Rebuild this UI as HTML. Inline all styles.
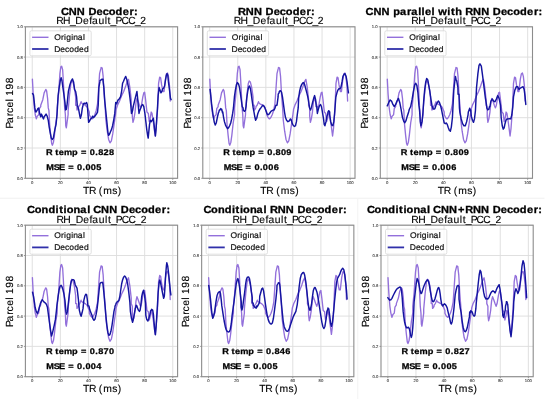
<!DOCTYPE html>
<html><head><meta charset="utf-8"><style>
html,body{margin:0;padding:0;background:#fff;width:550px;height:402px;overflow:hidden}
svg{display:block;will-change:transform;text-rendering:geometricPrecision;font-family:"Liberation Sans",sans-serif}
</style></head><body>
<svg width="550" height="402" viewBox="0 0 550 402">
<rect width="550" height="402" fill="#fff"/>
<line x1="0" y1="198.2" x2="544.5" y2="198.2" stroke="#f0f0f0" stroke-width="1"/>
<line x1="357.8" y1="198.5" x2="357.8" y2="399" stroke="#f3f3f3" stroke-width="1"/>
<g><line x1="32.25" y1="26.8" x2="32.25" y2="178.3" stroke="#dcdcdc" stroke-width="0.9"/><line x1="25.4" y1="178.3" x2="177.6" y2="178.3" stroke="#dcdcdc" stroke-width="0.9"/><line x1="60.35" y1="26.8" x2="60.35" y2="178.3" stroke="#dcdcdc" stroke-width="0.9"/><line x1="25.4" y1="148" x2="177.6" y2="148" stroke="#dcdcdc" stroke-width="0.9"/><line x1="88.45" y1="26.8" x2="88.45" y2="178.3" stroke="#dcdcdc" stroke-width="0.9"/><line x1="25.4" y1="117.7" x2="177.6" y2="117.7" stroke="#dcdcdc" stroke-width="0.9"/><line x1="116.55" y1="26.8" x2="116.55" y2="178.3" stroke="#dcdcdc" stroke-width="0.9"/><line x1="25.4" y1="87.4" x2="177.6" y2="87.4" stroke="#dcdcdc" stroke-width="0.9"/><line x1="144.65" y1="26.8" x2="144.65" y2="178.3" stroke="#dcdcdc" stroke-width="0.9"/><line x1="25.4" y1="57.1" x2="177.6" y2="57.1" stroke="#dcdcdc" stroke-width="0.9"/><line x1="172.75" y1="26.8" x2="172.75" y2="178.3" stroke="#dcdcdc" stroke-width="0.9"/><line x1="25.4" y1="26.8" x2="177.6" y2="26.8" stroke="#dcdcdc" stroke-width="0.9"/><polyline points="32.39,79.16 33.21,94.22 34.3,107.9 34.3,107.94 35.26,114.75 35.26,114.79 36.35,118.9 37.31,116.15 38.68,114.75 39.36,108.64 40.74,106.53 40.74,105.22 42.79,99.69 44.15,92.85 45.79,89.43 46.62,90.79 47.58,98.32 48.27,107.9 48.94,110.69 49.63,124.37 50.73,135.32 51.68,143.53 52.37,145.18 53.47,142.17 54.42,135.32 55.78,123 57.16,114.75 57.16,107.94 58.52,94.22 59.9,73.69 60.86,66.84 61.67,66.16 62.63,69.58 63.31,80.52 64,94.22 64.68,107.9 65.37,114.75 65.77,125.74 66.32,127.79 67.15,121.64 68.11,114.75 68.11,110.69 69.47,95.58 70.85,83.61 71.8,80.89 72.9,81.95 74.26,87.37 75.64,96.96 75.64,105.22 76.73,105.17 77,110 77.69,109.28 78.38,107.94 78.64,106.53 79.74,105.22 81.1,101.75 81.1,102.47 82.48,103.79 85.22,105.17 87.27,107.22 89.32,112 89.32,114.79 90.68,117.53 92.06,118.9 93.42,117.53 94.79,114.79 96.16,110.69 97.53,103.84 98.21,94.22 99.58,73.69 100.95,68.2 101.09,67.52 102.05,67.93 102.19,68.2 103.15,76.42 104.12,94.22 105.21,107.9 105.89,120.26 107.26,131.21 108.63,139.43 110,142.85 111.37,140.79 112.73,133.96 114.11,124.37 115.47,114.79 116.16,109.28 117.52,105.17 119.57,101.07 121.64,95.58 123.69,91.48 125.74,86.01 127.1,81.9 128.48,79.43 129.84,87.37 131.2,99.69 131.2,105.22 132.3,107.9 132.3,116.15 132.99,122.32 133.94,118.9 135.04,112.05 136,102.43 136.96,98.32 138.05,101.07 139.42,105.17 140.52,107.9 141.47,105.17 142.84,96.96 143.81,92.85 144.62,92.16 145.58,99.69 146.95,112 148.32,113.43 149.27,121.64 150.37,117.53 151.2,112.05 152.01,113.43 153.11,120.26 154.2,128.47 155.16,136 156.11,128.47 156.94,117.53 157.49,110.69 158.59,83.26 159.68,77.11 160.64,77.79 161.59,84.63 162.96,91.48 164.05,91.48 165.43,79.16 166.53,73.69 167.48,73.01 168.44,76.42 169.53,86.01 170.22,101.07" fill="none" stroke="#9370db" stroke-width="1.35" stroke-linejoin="round" stroke-linecap="round"/><polyline points="32.52,93.54 33.47,94.9 34.16,101.07 34.85,107.9 35.12,109.32 35.52,111.32 35.93,112.05 36.9,110.69 37.86,108.64 38.67,107.94 39.36,112.05 40.05,114.79 40.72,116.85 41.41,114.11 42.1,115.47 42.79,117.53 43.46,118.9 44.15,116.85 45.11,115.47 46.06,114.11 47.16,116.15 48.25,120.26 49.21,127.11 50.18,132.58 51.26,138.06 52.23,139.43 53.33,138.06 54.28,132.58 55.1,128.47 56.05,124.37 56.74,117.53 57.43,107.94 58.12,95.58 59.2,87.37 60.29,80.52 61.12,77.79 61.94,80.52 62.89,87.37 63.86,94.22 64.96,102.43 65.63,110 65.91,109.28 66.32,109.32 67.01,105.22 67.42,101.07 68.37,91.48 69.75,85.32 71.11,81.22 72.48,78.89 73.57,81.9 74.53,89.43 75.62,91.48 76.59,96.96 77.27,105.17 78.64,109.32 79.74,115.47 80.41,118.22 81.38,114.79 82.34,107.94 83.43,103.84 84.39,103.16 85.49,103.84 86.58,102.47 87.26,104.53 87.94,113.43 88.63,122.32 89.59,120.96 90.68,118.9 91.64,118.22 92.59,116.15 93.42,117.53 94.38,116.85 95.33,115.47 96.43,114.11 97.53,112.05 98.21,105.22 98.89,87.37 99.86,81.9 100,80.52 101.09,79.84 101.22,79.84 102.05,79.16 103.01,79.16 103.01,80.52 103.83,87.37 104.79,101.07 106.15,114.79 107.12,124.37 107.94,132.58 108.63,135.32 109.58,133.96 110.68,131.21 111.63,129.17 112.59,125.74 113.68,120.26 114.78,113.43 115.74,102.43 116.69,103.79 117.79,100.37 119.16,99 120.53,96.96 121.62,91.48 122.58,83.26 123.55,81.22 124.63,78.48 125.72,76.42 126.69,79.16 127.65,83.26 128.75,88.75 129.84,96.96 130.8,105.17 131.47,113.43 132.57,110.69 133.54,105.22 135.85,95.58 136.95,91.48 137.64,98.32 138.33,106.53 139,113.43 139.69,110.69 140.79,107.94 141.74,105.22 142.7,104.53 143.79,106.58 144.89,113.43 145.84,121.64 146.8,129.85 147.63,135.32 148.18,138.06 148.99,129.85 149.54,124.37 150.37,120.26 151.32,121.64 152.28,120.26 153.38,118.22 154.06,124.37 154.74,131.21 155.43,136 156.11,128.47 156.8,117.53 157.48,107.94 158.17,95.58 159.12,87.37 159.95,90.11 160.91,92.85 161.86,91.48 162.68,88.75 163.65,88.05 164.6,86.01 165.42,80.52 166.37,75.05 167.06,73.69 167.75,75.05 168.44,81.9 169.53,90.11 170.49,98.32 171.16,99.69" fill="none" stroke="#1414a0" stroke-width="1.45" stroke-linejoin="round" stroke-linecap="round"/><rect x="25.4" y="26.8" width="152.2" height="151.5" fill="none" stroke="#8c8c8c" stroke-width="1.1"/><line x1="32.25" y1="178.3" x2="32.25" y2="179.8" stroke="#8c8c8c" stroke-width="0.9"/><text x="32.25" y="183.9" font-size="4.2" text-anchor="middle" fill="#444" stroke="#444" stroke-width="0.12">0</text><line x1="23.9" y1="178.3" x2="25.4" y2="178.3" stroke="#8c8c8c" stroke-width="0.9"/><text x="22.8" y="179.95" font-size="4.2" text-anchor="end" fill="#444" stroke="#444" stroke-width="0.12">0.0</text><line x1="60.35" y1="178.3" x2="60.35" y2="179.8" stroke="#8c8c8c" stroke-width="0.9"/><text x="60.35" y="183.9" font-size="4.2" text-anchor="middle" fill="#444" stroke="#444" stroke-width="0.12">20</text><line x1="23.9" y1="148" x2="25.4" y2="148" stroke="#8c8c8c" stroke-width="0.9"/><text x="22.8" y="149.65" font-size="4.2" text-anchor="end" fill="#444" stroke="#444" stroke-width="0.12">0.2</text><line x1="88.45" y1="178.3" x2="88.45" y2="179.8" stroke="#8c8c8c" stroke-width="0.9"/><text x="88.45" y="183.9" font-size="4.2" text-anchor="middle" fill="#444" stroke="#444" stroke-width="0.12">40</text><line x1="23.9" y1="117.7" x2="25.4" y2="117.7" stroke="#8c8c8c" stroke-width="0.9"/><text x="22.8" y="119.35" font-size="4.2" text-anchor="end" fill="#444" stroke="#444" stroke-width="0.12">0.4</text><line x1="116.55" y1="178.3" x2="116.55" y2="179.8" stroke="#8c8c8c" stroke-width="0.9"/><text x="116.55" y="183.9" font-size="4.2" text-anchor="middle" fill="#444" stroke="#444" stroke-width="0.12">60</text><line x1="23.9" y1="87.4" x2="25.4" y2="87.4" stroke="#8c8c8c" stroke-width="0.9"/><text x="22.8" y="89.05" font-size="4.2" text-anchor="end" fill="#444" stroke="#444" stroke-width="0.12">0.6</text><line x1="144.65" y1="178.3" x2="144.65" y2="179.8" stroke="#8c8c8c" stroke-width="0.9"/><text x="144.65" y="183.9" font-size="4.2" text-anchor="middle" fill="#444" stroke="#444" stroke-width="0.12">80</text><line x1="23.9" y1="57.1" x2="25.4" y2="57.1" stroke="#8c8c8c" stroke-width="0.9"/><text x="22.8" y="58.75" font-size="4.2" text-anchor="end" fill="#444" stroke="#444" stroke-width="0.12">0.8</text><line x1="172.75" y1="178.3" x2="172.75" y2="179.8" stroke="#8c8c8c" stroke-width="0.9"/><text x="172.75" y="183.9" font-size="4.2" text-anchor="middle" fill="#444" stroke="#444" stroke-width="0.12">100</text><line x1="23.9" y1="26.8" x2="25.4" y2="26.8" stroke="#8c8c8c" stroke-width="0.9"/><text x="22.8" y="28.45" font-size="4.2" text-anchor="end" fill="#444" stroke="#444" stroke-width="0.12">1.0</text><rect x="29.9" y="30.8" width="61.3" height="25.0" rx="1.5" fill="#fff" fill-opacity="0.8" stroke="#d8d8d8" stroke-width="0.8"/><line x1="32.1" y1="37.3" x2="48.5" y2="37.3" stroke="#9370db" stroke-width="1.4"/><line x1="32.1" y1="49" x2="48.5" y2="49" stroke="#3030aa" stroke-width="1.8"/><text transform="scale(1.03,1)" x="52.75 59.25 62.19 64.22 69.1 71.18 75.6 80.64" y="39.75" font-size="8.25" fill="#111" stroke="#111" stroke-width="0.2">Original</text><text transform="scale(1.03,1)" x="52.6 58.54 63.07 67.33 72.01 76.8 81.47" y="51.7" font-size="8.25" fill="#111" stroke="#111" stroke-width="0.2">Decoded</text><text transform="scale(1.12,1)" x="41.02 46.67 49.29 52.39 57.06 64.35 69.39 72.26 77.65 80.15 85.04 87.63 92.48 97.32" y="155.35" font-size="8.2" font-weight="bold" fill="#000" stroke="#000" stroke-width="0.25">R temp = 0.828</text><text transform="scale(1.12,1)" x="41.28 47.98 52.78 58.01 60.88 66.27 68.77 73.66 76.26 81.11 85.96" y="170.3" font-size="8.2" font-weight="bold" fill="#000" stroke="#000" stroke-width="0.25">MSE = 0.005</text><text transform="scale(1.07,1)" x="56.91 64.21 71.85 79.54 82.67 90.31 95.99 101.71 108.06 114.7 121.06 125.31" y="14.5" font-size="10.3" font-weight="bold" fill="#000" stroke="#000" stroke-width="0.3">CNN Decoder:</text><text x="56.14 63.05 70.04 75.37 83 89.26 92.04 98.47 104.67 107.62 110.58 115.53 121.38 128.19 134.98 140.37" y="24.35" font-size="10.35" fill="#000" stroke="#000" stroke-width="0.12">RH_Default_PCC_2</text><text x="82.93 88.88 95.96 98.87 103.23 112.29 117.8" y="193.5" font-size="10.35" fill="#000" stroke="#000" stroke-width="0.12">TR (ms)</text><text transform="translate(13.2,102.55) rotate(-90)" x="-26.01 -20.47 -13.77 -10.46 -4.93 1.13 3.75 6.91 13.15 19.39" y="0" font-size="10.35" fill="#000" stroke="#000" stroke-width="0.12">Parcel 198</text></g>
<g><line x1="209.65" y1="26.8" x2="209.65" y2="178.3" stroke="#dcdcdc" stroke-width="0.9"/><line x1="202.8" y1="178.3" x2="355" y2="178.3" stroke="#dcdcdc" stroke-width="0.9"/><line x1="237.75" y1="26.8" x2="237.75" y2="178.3" stroke="#dcdcdc" stroke-width="0.9"/><line x1="202.8" y1="148" x2="355" y2="148" stroke="#dcdcdc" stroke-width="0.9"/><line x1="265.85" y1="26.8" x2="265.85" y2="178.3" stroke="#dcdcdc" stroke-width="0.9"/><line x1="202.8" y1="117.7" x2="355" y2="117.7" stroke="#dcdcdc" stroke-width="0.9"/><line x1="293.95" y1="26.8" x2="293.95" y2="178.3" stroke="#dcdcdc" stroke-width="0.9"/><line x1="202.8" y1="87.4" x2="355" y2="87.4" stroke="#dcdcdc" stroke-width="0.9"/><line x1="322.05" y1="26.8" x2="322.05" y2="178.3" stroke="#dcdcdc" stroke-width="0.9"/><line x1="202.8" y1="57.1" x2="355" y2="57.1" stroke="#dcdcdc" stroke-width="0.9"/><line x1="350.15" y1="26.8" x2="350.15" y2="178.3" stroke="#dcdcdc" stroke-width="0.9"/><line x1="202.8" y1="26.8" x2="355" y2="26.8" stroke="#dcdcdc" stroke-width="0.9"/><polyline points="209.79,79.16 210.61,94.22 211.7,107.9 211.7,107.94 212.66,114.75 212.66,114.79 213.75,118.9 214.71,116.15 216.08,114.75 216.76,108.64 218.14,106.53 218.14,105.22 220.19,99.69 221.55,92.85 223.19,89.43 224.02,90.79 224.98,98.32 225.67,107.9 226.34,110.69 227.03,124.37 228.13,135.32 229.08,143.53 229.77,145.18 230.87,142.17 231.82,135.32 233.18,123 234.56,114.75 234.56,107.94 235.92,94.22 237.3,73.69 238.26,66.84 239.07,66.16 240.03,69.58 240.71,80.52 241.4,94.22 242.08,107.9 242.77,114.75 243.17,125.74 243.72,127.79 244.55,121.64 245.51,114.75 245.51,110.69 246.87,95.58 248.25,83.61 249.2,80.89 250.3,81.95 251.66,87.37 253.04,96.96 253.04,105.22 254.13,105.17 254.4,110 255.09,109.28 255.78,107.94 256.04,106.53 257.14,105.22 258.5,101.75 258.5,102.47 259.88,103.79 262.62,105.17 264.67,107.22 266.72,112 266.72,114.79 268.08,117.53 269.46,118.9 270.82,117.53 272.19,114.79 273.56,110.69 274.93,103.84 275.61,94.22 276.98,73.69 278.35,68.2 278.5,67.52 279.45,67.93 279.59,68.2 280.55,76.42 281.52,94.22 282.61,107.9 283.29,120.26 284.66,131.21 286.03,139.43 287.4,142.85 288.77,140.79 290.13,133.96 291.51,124.37 292.87,114.79 293.56,109.28 294.92,105.17 296.97,101.07 299.04,95.58 301.09,91.48 303.14,86.01 304.5,81.9 305.88,79.43 307.24,87.37 308.6,99.69 308.6,105.22 309.7,107.9 309.7,116.15 310.39,122.32 311.34,118.9 312.44,112.05 313.4,102.43 314.36,98.32 315.45,101.07 316.82,105.17 317.92,107.9 318.87,105.17 320.24,96.96 321.21,92.85 322.02,92.16 322.98,99.69 324.35,112 325.72,113.43 326.67,121.64 327.77,117.53 328.6,112.05 329.41,113.43 330.51,120.26 331.6,128.47 332.56,136 333.51,128.47 334.34,117.53 334.89,110.69 335.99,83.26 337.08,77.11 338.04,77.79 338.99,84.63 340.36,91.48 341.45,91.48 342.83,79.16 343.93,73.69 344.88,73.01 345.84,76.42 346.93,86.01 347.62,101.07" fill="none" stroke="#9370db" stroke-width="1.35" stroke-linejoin="round" stroke-linecap="round"/><polyline points="210.06,89.43 210.75,95.58 211.57,103.79 213.22,116.15 214.3,122.32 215.27,125.06 216.23,123 217.32,117.53 218.42,112.75 218.68,112.69 219.37,110 219.78,109.96 220.33,109.32 220.74,108.58 221.42,110 221.69,109.28 222.52,112.75 222.79,112 223.48,116.85 224.43,121.64 225.53,125.06 226.62,127.11 227.58,128.74 228.53,127.79 229.63,125.74 230.72,123 231.69,118.9 232.65,113.43 233.46,107.94 234.42,96.96 235.39,90.11 236.47,84.63 237.44,82.58 238.54,83.95 239.49,87.37 240.31,92.85 241.26,99.69 242.23,106.53 243.05,107.94 243.33,110.64 244,110.69 244.41,111.32 244.96,110.69 245.38,110.64 245.79,107.94 246.05,106.53 246.74,98.32 247.7,91.48 248.53,87.37 249.48,86.01 250.44,88.75 251.27,94.22 252.22,101.07 253.18,107.9 253.99,112.05 254.96,117.53 255.64,120.26 256.73,118.22 257.69,114.11 258.66,111.37 259.74,109.32 260.83,107.94 261.8,106.58 262.76,105.22 263.85,105.9 264.95,107.94 265.91,110.69 266.86,113.43 267.96,114.79 269.05,114.11 270.01,112.75 270.96,111.37 272.06,110.69 273.16,110 274.11,109.96 275.07,107.9 275.9,105.17 277.01,105.17 278.1,96.96 278.21,94.22 279.06,92.85 279.31,91.48 280,90.79 280.42,90.79 281.52,92.16 282.47,96.96 284.52,112.05 285.49,117.53 286.57,120.26 287.95,121.64 289.31,120.96 290.41,118.9 291.36,120.26 292.33,123.68 293.43,125.74 294.51,126.43 295.48,125.74 296.44,121.64 297.25,114.79 298.21,107.94 298.63,98.32 299.58,91.48 300.54,87.37 301.64,84.63 302.73,82.99 303.69,82.58 304.64,84.63 305.74,88.75 306.83,92.85 307.79,96.96 308.76,102.43 309.57,107.94 310.53,110 311.48,107.26 312.58,102.43 313.68,98.32 314.63,95.58 315.6,99.69 316.28,106.58 316.68,106.53 317.37,113.43 318.33,109.32 319.42,105.9 320.52,104.53 321.47,106.58 322.44,112.05 323.54,118.9 324.21,124.37 324.9,125.74 326,121.64 326.95,116.15 327.91,113.38 327.91,112.05 328.74,110.64 328.74,110.69 329.69,112 329.69,114.79 330.65,121.64 331.74,125.06 332.84,125.74 333.8,121.64 334.48,114.79 335.85,96.96 336.94,92.85 337.9,90.11 338.87,88.75 339.95,88.75 340.92,87.37 342.02,81.9 342.97,76.42 344.07,74.37 345.02,73.69 346.12,76.42 347.07,81.9 347.89,88.75 348.44,92.85" fill="none" stroke="#1414a0" stroke-width="1.45" stroke-linejoin="round" stroke-linecap="round"/><rect x="202.8" y="26.8" width="152.2" height="151.5" fill="none" stroke="#8c8c8c" stroke-width="1.1"/><line x1="209.65" y1="178.3" x2="209.65" y2="179.8" stroke="#8c8c8c" stroke-width="0.9"/><text x="209.65" y="183.9" font-size="4.2" text-anchor="middle" fill="#444" stroke="#444" stroke-width="0.12">0</text><line x1="201.3" y1="178.3" x2="202.8" y2="178.3" stroke="#8c8c8c" stroke-width="0.9"/><text x="200.2" y="179.95" font-size="4.2" text-anchor="end" fill="#444" stroke="#444" stroke-width="0.12">0.0</text><line x1="237.75" y1="178.3" x2="237.75" y2="179.8" stroke="#8c8c8c" stroke-width="0.9"/><text x="237.75" y="183.9" font-size="4.2" text-anchor="middle" fill="#444" stroke="#444" stroke-width="0.12">20</text><line x1="201.3" y1="148" x2="202.8" y2="148" stroke="#8c8c8c" stroke-width="0.9"/><text x="200.2" y="149.65" font-size="4.2" text-anchor="end" fill="#444" stroke="#444" stroke-width="0.12">0.2</text><line x1="265.85" y1="178.3" x2="265.85" y2="179.8" stroke="#8c8c8c" stroke-width="0.9"/><text x="265.85" y="183.9" font-size="4.2" text-anchor="middle" fill="#444" stroke="#444" stroke-width="0.12">40</text><line x1="201.3" y1="117.7" x2="202.8" y2="117.7" stroke="#8c8c8c" stroke-width="0.9"/><text x="200.2" y="119.35" font-size="4.2" text-anchor="end" fill="#444" stroke="#444" stroke-width="0.12">0.4</text><line x1="293.95" y1="178.3" x2="293.95" y2="179.8" stroke="#8c8c8c" stroke-width="0.9"/><text x="293.95" y="183.9" font-size="4.2" text-anchor="middle" fill="#444" stroke="#444" stroke-width="0.12">60</text><line x1="201.3" y1="87.4" x2="202.8" y2="87.4" stroke="#8c8c8c" stroke-width="0.9"/><text x="200.2" y="89.05" font-size="4.2" text-anchor="end" fill="#444" stroke="#444" stroke-width="0.12">0.6</text><line x1="322.05" y1="178.3" x2="322.05" y2="179.8" stroke="#8c8c8c" stroke-width="0.9"/><text x="322.05" y="183.9" font-size="4.2" text-anchor="middle" fill="#444" stroke="#444" stroke-width="0.12">80</text><line x1="201.3" y1="57.1" x2="202.8" y2="57.1" stroke="#8c8c8c" stroke-width="0.9"/><text x="200.2" y="58.75" font-size="4.2" text-anchor="end" fill="#444" stroke="#444" stroke-width="0.12">0.8</text><line x1="350.15" y1="178.3" x2="350.15" y2="179.8" stroke="#8c8c8c" stroke-width="0.9"/><text x="350.15" y="183.9" font-size="4.2" text-anchor="middle" fill="#444" stroke="#444" stroke-width="0.12">100</text><line x1="201.3" y1="26.8" x2="202.8" y2="26.8" stroke="#8c8c8c" stroke-width="0.9"/><text x="200.2" y="28.45" font-size="4.2" text-anchor="end" fill="#444" stroke="#444" stroke-width="0.12">1.0</text><rect x="207.3" y="30.8" width="61.3" height="25.0" rx="1.5" fill="#fff" fill-opacity="0.8" stroke="#d8d8d8" stroke-width="0.8"/><line x1="209.5" y1="37.3" x2="225.9" y2="37.3" stroke="#9370db" stroke-width="1.4"/><line x1="209.5" y1="49" x2="225.9" y2="49" stroke="#3030aa" stroke-width="1.8"/><text transform="scale(1.03,1)" x="224.98 231.49 234.42 236.45 241.33 243.42 247.83 252.87" y="39.75" font-size="8.25" fill="#111" stroke="#111" stroke-width="0.2">Original</text><text transform="scale(1.03,1)" x="224.83 230.77 235.31 239.57 244.24 249.03 253.71" y="51.7" font-size="8.25" fill="#111" stroke="#111" stroke-width="0.2">Decoded</text><text transform="scale(1.12,1)" x="199.41 205.06 207.68 210.79 215.45 222.75 227.78 230.66 236.04 238.54 243.43 246.02 250.88 255.69" y="155.35" font-size="8.2" font-weight="bold" fill="#000" stroke="#000" stroke-width="0.25">R temp = 0.809</text><text transform="scale(1.12,1)" x="199.68 206.37 211.17 216.41 219.28 224.67 227.17 232.05 234.66 239.5 244.37" y="170.3" font-size="8.2" font-weight="bold" fill="#000" stroke="#000" stroke-width="0.25">MSE = 0.006</text><text transform="scale(1.07,1)" x="222.41 229.65 237.29 244.98 248.11 255.75 261.43 267.15 273.5 280.14 286.5 290.75" y="14.5" font-size="10.3" font-weight="bold" fill="#000" stroke="#000" stroke-width="0.3">RNN Decoder:</text><text x="233.64 240.55 247.54 252.87 260.5 266.76 269.54 275.97 282.17 285.12 288.08 293.03 298.88 305.69 312.48 317.87" y="24.35" font-size="10.35" fill="#000" stroke="#000" stroke-width="0.12">RH_Default_PCC_2</text><text x="260.33 266.28 273.36 276.27 280.63 289.69 295.2" y="193.5" font-size="10.35" fill="#000" stroke="#000" stroke-width="0.12">TR (ms)</text><text transform="translate(190.6,102.55) rotate(-90)" x="-26.01 -20.47 -13.77 -10.46 -4.93 1.13 3.75 6.91 13.15 19.39" y="0" font-size="10.35" fill="#000" stroke="#000" stroke-width="0.12">Parcel 198</text></g>
<g><line x1="387.15" y1="26.8" x2="387.15" y2="178.3" stroke="#dcdcdc" stroke-width="0.9"/><line x1="380.3" y1="178.3" x2="532.5" y2="178.3" stroke="#dcdcdc" stroke-width="0.9"/><line x1="415.25" y1="26.8" x2="415.25" y2="178.3" stroke="#dcdcdc" stroke-width="0.9"/><line x1="380.3" y1="148" x2="532.5" y2="148" stroke="#dcdcdc" stroke-width="0.9"/><line x1="443.35" y1="26.8" x2="443.35" y2="178.3" stroke="#dcdcdc" stroke-width="0.9"/><line x1="380.3" y1="117.7" x2="532.5" y2="117.7" stroke="#dcdcdc" stroke-width="0.9"/><line x1="471.45" y1="26.8" x2="471.45" y2="178.3" stroke="#dcdcdc" stroke-width="0.9"/><line x1="380.3" y1="87.4" x2="532.5" y2="87.4" stroke="#dcdcdc" stroke-width="0.9"/><line x1="499.55" y1="26.8" x2="499.55" y2="178.3" stroke="#dcdcdc" stroke-width="0.9"/><line x1="380.3" y1="57.1" x2="532.5" y2="57.1" stroke="#dcdcdc" stroke-width="0.9"/><line x1="527.65" y1="26.8" x2="527.65" y2="178.3" stroke="#dcdcdc" stroke-width="0.9"/><line x1="380.3" y1="26.8" x2="532.5" y2="26.8" stroke="#dcdcdc" stroke-width="0.9"/><polyline points="387.29,79.16 388.11,94.22 389.2,107.9 389.2,107.94 390.16,114.75 390.16,114.79 391.25,118.9 392.21,116.15 393.58,114.75 394.26,108.64 395.64,106.53 395.64,105.22 397.69,99.69 399.05,92.85 400.69,89.43 401.52,90.79 402.48,98.32 403.17,107.9 403.84,110.69 404.53,124.37 405.63,135.32 406.58,143.53 407.27,145.18 408.37,142.17 409.32,135.32 410.68,123 412.06,114.75 412.06,107.94 413.42,94.22 414.8,73.69 415.76,66.84 416.57,66.16 417.53,69.58 418.21,80.52 418.9,94.22 419.58,107.9 420.27,114.75 420.67,125.74 421.22,127.79 422.05,121.64 423.01,114.75 423.01,110.69 424.37,95.58 425.75,83.61 426.7,80.89 427.8,81.95 429.16,87.37 430.54,96.96 430.54,105.22 431.63,105.17 431.9,110 432.59,109.28 433.28,107.94 433.54,106.53 434.64,105.22 436,101.75 436,102.47 437.38,103.79 440.12,105.17 442.17,107.22 444.22,112 444.22,114.79 445.58,117.53 446.96,118.9 448.32,117.53 449.69,114.79 451.06,110.69 452.43,103.84 453.11,94.22 454.48,73.69 455.85,68.2 456,67.52 456.95,67.93 457.09,68.2 458.05,76.42 459.02,94.22 460.11,107.9 460.79,120.26 462.16,131.21 463.53,139.43 464.9,142.85 466.27,140.79 467.63,133.96 469.01,124.37 470.37,114.79 471.06,109.28 472.42,105.17 474.47,101.07 476.54,95.58 478.59,91.48 480.64,86.01 482,81.9 483.38,79.43 484.74,87.37 486.1,99.69 486.1,105.22 487.2,107.9 487.2,116.15 487.89,122.32 488.84,118.9 489.94,112.05 490.9,102.43 491.86,98.32 492.95,101.07 494.32,105.17 495.42,107.9 496.37,105.17 497.74,96.96 498.71,92.85 499.52,92.16 500.48,99.69 501.85,112 503.22,113.43 504.17,121.64 505.27,117.53 506.1,112.05 506.91,113.43 508.01,120.26 509.1,128.47 510.06,136 511.01,128.47 511.84,117.53 512.39,110.69 513.49,83.26 514.58,77.11 515.54,77.79 516.49,84.63 517.86,91.48 518.95,91.48 520.33,79.16 521.43,73.69 522.38,73.01 523.34,76.42 524.43,86.01 525.12,101.07" fill="none" stroke="#9370db" stroke-width="1.35" stroke-linejoin="round" stroke-linecap="round"/><polyline points="387.29,105.85 388.79,102.43 390.16,99.96 391.53,101.07 392.9,104.47 394.26,106.53 395.64,104.47 397,101.07 398.38,98.32 399.74,102.43 401.1,109.28 402.48,117.53 403.84,121.64 404.8,122.73 405.89,120.96 407.27,116.15 408.63,112.05 409.32,109.28 410.68,106.53 412.06,99.69 413.42,91.48 414.8,84.63 415.76,83.26 416.85,85.32 417.95,92.85 418.9,105.17 419.58,110.69 420.27,121.64 420.95,125.74 422.05,121.64 423.01,112.05 423.69,101.07 424.65,90.11 425.75,81.9 426.7,78.48 427.8,79.84 428.89,86.01 429.85,91.48 430.8,98.32 431.9,105.17 433,108.58 433.95,109.28 434.91,108.58 436,105.17 437.38,102.43 438.47,101.07 439.43,102.43 440.39,105.17 441.48,109.28 443.13,117.53 444.22,123 445.32,123.68 446.27,123 447.23,124.37 448.32,127.79 449.42,130.53 450.38,131.21 451.33,127.11 452.43,117.53 453.8,90.11 454.9,80.52 455.45,76.42 456,79.16 456.54,80.52 456.68,80.52 457.91,87.37 458.05,94.22 459,94.22 459.42,107.9 459.83,112.05 461.21,118.9 462.57,123.68 463.93,125.74 465.31,125.74 466.67,121.64 468.05,114.79 468.32,112 469.41,109.32 469.68,108.17 470.37,110.69 470.78,109.96 471.32,116.15 472.42,120.26 473.52,122.32 474.47,118.9 475.44,110.69 476.54,87.37 477.9,73.69 478.99,65.48 479.95,63.83 481.31,66.16 482.69,76.42 484.05,87.37 485.43,98.32 486.79,106.53 486.79,107.94 487.75,110 488.16,109.28 488.84,109.32 489.53,106.53 489.94,106.58 490.9,101.07 492.27,99 493.63,101.07 495.01,101.75 496.37,99 497.74,95.58 499.11,98.32 500.48,105.17 501.17,117.53 502.26,125.74 503.22,129.17 504.17,127.79 505,123.68 505.96,120.26 506.91,118.9 508.01,118.9 509.37,118.62 510.75,118.9 511.84,114.79 512.8,106.58 513.49,96.96 514.85,90.11 516.21,86.69 517.59,86.69 518.95,89.43 520.33,88.05 521.69,87.37 523.06,86.69 524.15,89.43 525.12,96.96 525.8,104.47" fill="none" stroke="#1414a0" stroke-width="1.45" stroke-linejoin="round" stroke-linecap="round"/><rect x="380.3" y="26.8" width="152.2" height="151.5" fill="none" stroke="#8c8c8c" stroke-width="1.1"/><line x1="387.15" y1="178.3" x2="387.15" y2="179.8" stroke="#8c8c8c" stroke-width="0.9"/><text x="387.15" y="183.9" font-size="4.2" text-anchor="middle" fill="#444" stroke="#444" stroke-width="0.12">0</text><line x1="378.8" y1="178.3" x2="380.3" y2="178.3" stroke="#8c8c8c" stroke-width="0.9"/><text x="377.7" y="179.95" font-size="4.2" text-anchor="end" fill="#444" stroke="#444" stroke-width="0.12">0.0</text><line x1="415.25" y1="178.3" x2="415.25" y2="179.8" stroke="#8c8c8c" stroke-width="0.9"/><text x="415.25" y="183.9" font-size="4.2" text-anchor="middle" fill="#444" stroke="#444" stroke-width="0.12">20</text><line x1="378.8" y1="148" x2="380.3" y2="148" stroke="#8c8c8c" stroke-width="0.9"/><text x="377.7" y="149.65" font-size="4.2" text-anchor="end" fill="#444" stroke="#444" stroke-width="0.12">0.2</text><line x1="443.35" y1="178.3" x2="443.35" y2="179.8" stroke="#8c8c8c" stroke-width="0.9"/><text x="443.35" y="183.9" font-size="4.2" text-anchor="middle" fill="#444" stroke="#444" stroke-width="0.12">40</text><line x1="378.8" y1="117.7" x2="380.3" y2="117.7" stroke="#8c8c8c" stroke-width="0.9"/><text x="377.7" y="119.35" font-size="4.2" text-anchor="end" fill="#444" stroke="#444" stroke-width="0.12">0.4</text><line x1="471.45" y1="178.3" x2="471.45" y2="179.8" stroke="#8c8c8c" stroke-width="0.9"/><text x="471.45" y="183.9" font-size="4.2" text-anchor="middle" fill="#444" stroke="#444" stroke-width="0.12">60</text><line x1="378.8" y1="87.4" x2="380.3" y2="87.4" stroke="#8c8c8c" stroke-width="0.9"/><text x="377.7" y="89.05" font-size="4.2" text-anchor="end" fill="#444" stroke="#444" stroke-width="0.12">0.6</text><line x1="499.55" y1="178.3" x2="499.55" y2="179.8" stroke="#8c8c8c" stroke-width="0.9"/><text x="499.55" y="183.9" font-size="4.2" text-anchor="middle" fill="#444" stroke="#444" stroke-width="0.12">80</text><line x1="378.8" y1="57.1" x2="380.3" y2="57.1" stroke="#8c8c8c" stroke-width="0.9"/><text x="377.7" y="58.75" font-size="4.2" text-anchor="end" fill="#444" stroke="#444" stroke-width="0.12">0.8</text><line x1="527.65" y1="178.3" x2="527.65" y2="179.8" stroke="#8c8c8c" stroke-width="0.9"/><text x="527.65" y="183.9" font-size="4.2" text-anchor="middle" fill="#444" stroke="#444" stroke-width="0.12">100</text><line x1="378.8" y1="26.8" x2="380.3" y2="26.8" stroke="#8c8c8c" stroke-width="0.9"/><text x="377.7" y="28.45" font-size="4.2" text-anchor="end" fill="#444" stroke="#444" stroke-width="0.12">1.0</text><rect x="384.8" y="30.8" width="61.3" height="25.0" rx="1.5" fill="#fff" fill-opacity="0.8" stroke="#d8d8d8" stroke-width="0.8"/><line x1="387" y1="37.3" x2="403.4" y2="37.3" stroke="#9370db" stroke-width="1.4"/><line x1="387" y1="49" x2="403.4" y2="49" stroke="#3030aa" stroke-width="1.8"/><text transform="scale(1.03,1)" x="397.31 403.82 406.75 408.78 413.66 415.75 420.16 425.2" y="39.75" font-size="8.25" fill="#111" stroke="#111" stroke-width="0.2">Original</text><text transform="scale(1.03,1)" x="397.16 403.1 407.64 411.9 416.57 421.36 426.04" y="51.7" font-size="8.25" fill="#111" stroke="#111" stroke-width="0.2">Decoded</text><text transform="scale(1.12,1)" x="357.89 363.55 366.16 369.27 373.93 381.23 386.27 389.14 394.53 397.03 401.91 404.5 409.36 414.17" y="155.35" font-size="8.2" font-weight="bold" fill="#000" stroke="#000" stroke-width="0.25">R temp = 0.809</text><text transform="scale(1.12,1)" x="358.16 364.85 369.65 374.89 377.76 383.15 385.65 390.53 393.14 397.98 402.85" y="170.3" font-size="8.2" font-weight="bold" fill="#000" stroke="#000" stroke-width="0.25">MSE = 0.006</text><text transform="scale(1.07,1)" x="341.7 349 356.64 364.33 367.51 373.74 380.38 384.4 390.82 393.95 397.12 403.26 406.41 409.64 417.99 421.4 425.43 431.99 434.89 442.13 449.77 457.46 460.59 468.23 473.91 479.63 485.98 492.62 498.98 503.23" y="14.5" font-size="10.3" font-weight="bold" fill="#000" stroke="#000" stroke-width="0.3">CNN parallel with RNN Decoder:</text><text x="411.24 418.15 425.14 430.47 438.1 444.36 447.14 453.57 459.77 462.72 465.68 470.63 476.48 483.29 490.08 495.47" y="24.35" font-size="10.35" fill="#000" stroke="#000" stroke-width="0.12">RH_Default_PCC_2</text><text x="437.83 443.78 450.86 453.77 458.13 467.19 472.7" y="193.5" font-size="10.35" fill="#000" stroke="#000" stroke-width="0.12">TR (ms)</text><text transform="translate(368.1,102.55) rotate(-90)" x="-26.01 -20.47 -13.77 -10.46 -4.93 1.13 3.75 6.91 13.15 19.39" y="0" font-size="10.35" fill="#000" stroke="#000" stroke-width="0.12">Parcel 198</text></g>
<g><line x1="32.25" y1="225.2" x2="32.25" y2="376.7" stroke="#dcdcdc" stroke-width="0.9"/><line x1="25.4" y1="376.7" x2="177.6" y2="376.7" stroke="#dcdcdc" stroke-width="0.9"/><line x1="60.35" y1="225.2" x2="60.35" y2="376.7" stroke="#dcdcdc" stroke-width="0.9"/><line x1="25.4" y1="346.4" x2="177.6" y2="346.4" stroke="#dcdcdc" stroke-width="0.9"/><line x1="88.45" y1="225.2" x2="88.45" y2="376.7" stroke="#dcdcdc" stroke-width="0.9"/><line x1="25.4" y1="316.1" x2="177.6" y2="316.1" stroke="#dcdcdc" stroke-width="0.9"/><line x1="116.55" y1="225.2" x2="116.55" y2="376.7" stroke="#dcdcdc" stroke-width="0.9"/><line x1="25.4" y1="285.8" x2="177.6" y2="285.8" stroke="#dcdcdc" stroke-width="0.9"/><line x1="144.65" y1="225.2" x2="144.65" y2="376.7" stroke="#dcdcdc" stroke-width="0.9"/><line x1="25.4" y1="255.5" x2="177.6" y2="255.5" stroke="#dcdcdc" stroke-width="0.9"/><line x1="172.75" y1="225.2" x2="172.75" y2="376.7" stroke="#dcdcdc" stroke-width="0.9"/><line x1="25.4" y1="225.2" x2="177.6" y2="225.2" stroke="#dcdcdc" stroke-width="0.9"/><polyline points="32.39,277.56 33.21,292.62 34.3,306.3 34.3,306.34 35.26,313.15 35.26,313.19 36.35,317.3 37.31,314.55 38.68,313.15 39.36,307.04 40.74,304.93 40.74,303.62 42.79,298.09 44.15,291.25 45.79,287.83 46.62,289.19 47.58,296.72 48.27,306.3 48.94,309.09 49.63,322.77 50.73,333.72 51.68,341.93 52.37,343.58 53.47,340.57 54.42,333.72 55.78,321.4 57.16,313.15 57.16,306.34 58.52,292.62 59.9,272.09 60.86,265.24 61.67,264.56 62.63,267.98 63.31,278.92 64,292.62 64.68,306.3 65.37,313.15 65.77,324.14 66.32,326.19 67.15,320.04 68.11,313.15 68.11,309.09 69.47,293.98 70.85,282.01 71.8,279.29 72.9,280.35 74.26,285.77 75.64,295.36 75.64,303.62 76.73,303.57 77,308.4 77.69,307.68 78.38,306.34 78.64,304.93 79.74,303.62 81.1,300.15 81.1,300.87 82.48,302.19 85.22,303.57 87.27,305.62 89.32,310.4 89.32,313.19 90.68,315.93 92.06,317.3 93.42,315.93 94.79,313.19 96.16,309.09 97.53,302.24 98.21,292.62 99.58,272.09 100.95,266.6 101.09,265.92 102.05,266.33 102.19,266.6 103.15,274.82 104.12,292.62 105.21,306.3 105.89,318.66 107.26,329.61 108.63,337.83 110,341.25 111.37,339.19 112.73,332.36 114.11,322.77 115.47,313.19 116.16,307.68 117.52,303.57 119.57,299.47 121.64,293.98 123.69,289.88 125.74,284.41 127.1,280.3 128.48,277.83 129.84,285.77 131.2,298.09 131.2,303.62 132.3,306.3 132.3,314.55 132.99,320.72 133.94,317.3 135.04,310.45 136,300.83 136.96,296.72 138.05,299.47 139.42,303.57 140.52,306.3 141.47,303.57 142.84,295.36 143.81,291.25 144.62,290.56 145.58,298.09 146.95,310.4 148.32,311.83 149.27,320.04 150.37,315.93 151.2,310.45 152.01,311.83 153.11,318.66 154.2,326.87 155.16,334.4 156.11,326.87 156.94,315.93 157.49,309.09 158.59,281.66 159.68,275.51 160.64,276.19 161.59,283.03 162.96,289.88 164.05,289.88 165.43,277.56 166.53,272.09 167.48,271.41 168.44,274.82 169.53,284.41 170.22,299.47" fill="none" stroke="#9370db" stroke-width="1.35" stroke-linejoin="round" stroke-linecap="round"/><polyline points="32.52,292.21 33.47,296.31 34.57,303.16 35.12,307.31 36.21,311.42 37.31,313.48 38.26,311.42 39.22,307.99 40.31,303.84 41.41,301.12 42.37,299.74 43.34,301.12 44.42,302.48 45.51,303.16 46.48,304.53 47.44,307.31 48.53,315.52 49.63,323.74 50.59,330.58 51.54,336.05 52.36,333.33 53.33,329.22 54.28,325.11 55.38,319.63 56.33,311.42 57.02,304.53 58.12,296.31 59.2,289.48 60.17,286.06 61.12,285.38 61.94,286.74 62.89,289.48 63.86,293.59 64.96,300.42 65.91,311.42 66.59,314.16 67.42,311.42 69.75,290.84 70.7,284 71.52,280.59 72.48,279.62 73.44,279.62 74.26,280.59 75.21,284.69 76.17,286.74 77,288.1 77.55,292.21 78.36,299.06 79.32,310.06 80.29,314.16 81.1,316.21 82.06,312.8 83.01,308.69 83.84,300.42 84.8,296.31 85.75,294.27 86.58,294.68 87.26,299.06 87.94,305.9 88.9,305.95 89.86,310.06 90.95,312.8 92.05,315.52 93,318.95 93.97,320.33 95.07,318.95 96.16,314.16 97.12,308.69 98.07,300.42 99.17,289.48 100,283.32 100.27,283.32 101.09,282.36 101.22,282.36 102.05,282.63 102.58,282.36 103.01,284.69 103.83,292.21 104.79,303.16 105.75,314.16 106.84,325.11 107.94,332.64 108.89,335.37 109.85,334.69 110.94,331.27 112.04,325.11 113,318.27 113.96,311.42 114.78,307.95 115.06,305.95 115.74,304.53 116.16,303.21 116.69,302.48 117.11,301.84 117.79,301.53 118.07,301.16 118.88,300.42 119.85,296.31 120.81,289.48 121.62,284 122.58,279.89 123.55,277.16 124.63,276.06 125.72,277.16 126.69,279.89 127.65,284 128.75,292.21 129.84,301.8 130.39,311.42 131.47,318.27 132.57,322.37 133.54,318.27 134.49,312.8 135.31,308.69 135.31,308.65 136.26,305.27 136.26,305.22 136.95,305.9 137.23,307.31 138.05,309.33 138.33,310.06 139,310.69 139.41,311.42 140.1,310.06 140.79,305.95 141.74,296.31 142.7,292.21 143.53,290.16 144.48,294.95 145.44,303.16 145.84,315.52 146.8,319.63 147.9,321.01 148.87,318.27 149.96,314.16 150.64,310.69 150.92,310.74 151.73,309.37 151.73,309.33 152.69,310.69 152.69,310.06 153.38,314.16 154.06,322.37 154.74,330.58 155.43,334.69 156.11,326.48 156.8,315.52 157.48,304.59 158.17,292.21 159.12,282.63 159.81,279.89 160.5,282.63 161.59,288.1 162.68,293.59 163.65,298.37 164.32,296.31 165.01,286.74 165.7,274.42 166.37,266.21 166.79,262.79 167.75,266.21 168.7,274.42 169.53,282.63 170.35,290.84 170.9,294.95" fill="none" stroke="#1414a0" stroke-width="1.45" stroke-linejoin="round" stroke-linecap="round"/><rect x="25.4" y="225.2" width="152.2" height="151.5" fill="none" stroke="#8c8c8c" stroke-width="1.1"/><line x1="32.25" y1="376.7" x2="32.25" y2="378.2" stroke="#8c8c8c" stroke-width="0.9"/><text x="32.25" y="382.3" font-size="4.2" text-anchor="middle" fill="#444" stroke="#444" stroke-width="0.12">0</text><line x1="23.9" y1="376.7" x2="25.4" y2="376.7" stroke="#8c8c8c" stroke-width="0.9"/><text x="22.8" y="378.35" font-size="4.2" text-anchor="end" fill="#444" stroke="#444" stroke-width="0.12">0.0</text><line x1="60.35" y1="376.7" x2="60.35" y2="378.2" stroke="#8c8c8c" stroke-width="0.9"/><text x="60.35" y="382.3" font-size="4.2" text-anchor="middle" fill="#444" stroke="#444" stroke-width="0.12">20</text><line x1="23.9" y1="346.4" x2="25.4" y2="346.4" stroke="#8c8c8c" stroke-width="0.9"/><text x="22.8" y="348.05" font-size="4.2" text-anchor="end" fill="#444" stroke="#444" stroke-width="0.12">0.2</text><line x1="88.45" y1="376.7" x2="88.45" y2="378.2" stroke="#8c8c8c" stroke-width="0.9"/><text x="88.45" y="382.3" font-size="4.2" text-anchor="middle" fill="#444" stroke="#444" stroke-width="0.12">40</text><line x1="23.9" y1="316.1" x2="25.4" y2="316.1" stroke="#8c8c8c" stroke-width="0.9"/><text x="22.8" y="317.75" font-size="4.2" text-anchor="end" fill="#444" stroke="#444" stroke-width="0.12">0.4</text><line x1="116.55" y1="376.7" x2="116.55" y2="378.2" stroke="#8c8c8c" stroke-width="0.9"/><text x="116.55" y="382.3" font-size="4.2" text-anchor="middle" fill="#444" stroke="#444" stroke-width="0.12">60</text><line x1="23.9" y1="285.8" x2="25.4" y2="285.8" stroke="#8c8c8c" stroke-width="0.9"/><text x="22.8" y="287.45" font-size="4.2" text-anchor="end" fill="#444" stroke="#444" stroke-width="0.12">0.6</text><line x1="144.65" y1="376.7" x2="144.65" y2="378.2" stroke="#8c8c8c" stroke-width="0.9"/><text x="144.65" y="382.3" font-size="4.2" text-anchor="middle" fill="#444" stroke="#444" stroke-width="0.12">80</text><line x1="23.9" y1="255.5" x2="25.4" y2="255.5" stroke="#8c8c8c" stroke-width="0.9"/><text x="22.8" y="257.15" font-size="4.2" text-anchor="end" fill="#444" stroke="#444" stroke-width="0.12">0.8</text><line x1="172.75" y1="376.7" x2="172.75" y2="378.2" stroke="#8c8c8c" stroke-width="0.9"/><text x="172.75" y="382.3" font-size="4.2" text-anchor="middle" fill="#444" stroke="#444" stroke-width="0.12">100</text><line x1="23.9" y1="225.2" x2="25.4" y2="225.2" stroke="#8c8c8c" stroke-width="0.9"/><text x="22.8" y="226.85" font-size="4.2" text-anchor="end" fill="#444" stroke="#444" stroke-width="0.12">1.0</text><rect x="29.9" y="229.2" width="61.3" height="25.0" rx="1.5" fill="#fff" fill-opacity="0.8" stroke="#d8d8d8" stroke-width="0.8"/><line x1="32.1" y1="235.7" x2="48.5" y2="235.7" stroke="#9370db" stroke-width="1.4"/><line x1="32.1" y1="247.4" x2="48.5" y2="247.4" stroke="#3030aa" stroke-width="1.8"/><text transform="scale(1.03,1)" x="52.75 59.25 62.19 64.22 69.1 71.18 75.6 80.64" y="238.15" font-size="8.25" fill="#111" stroke="#111" stroke-width="0.2">Original</text><text transform="scale(1.03,1)" x="52.6 58.54 63.07 67.33 72.01 76.8 81.47" y="250.1" font-size="8.25" fill="#111" stroke="#111" stroke-width="0.2">Decoded</text><text transform="scale(1.12,1)" x="41.02 46.67 49.29 52.39 57.06 64.35 69.39 72.26 77.65 80.15 85.04 87.63 92.44 97.33" y="353.75" font-size="8.2" font-weight="bold" fill="#000" stroke="#000" stroke-width="0.25">R temp = 0.870</text><text transform="scale(1.12,1)" x="41.28 47.98 52.78 58.01 60.88 66.27 68.77 73.66 76.26 81.11 85.91" y="368.7" font-size="8.2" font-weight="bold" fill="#000" stroke="#000" stroke-width="0.25">MSE = 0.004</text><text transform="scale(1.07,1)" x="25.3 32.49 38.88 45.33 51.93 55.34 59.42 62.39 68.78 75.03 81.46 84.61 87.12 94.42 102.05 109.74 112.88 120.51 126.2 131.91 138.26 144.9 151.26 155.52" y="212.8" font-size="10.3" font-weight="bold" fill="#000" stroke="#000" stroke-width="0.3">Conditional CNN Decoder:</text><text x="56.44 63.35 70.34 75.67 83.3 89.56 92.34 98.77 104.97 107.92 110.88 115.83 121.68 128.49 135.28 140.67" y="222.65" font-size="10.35" fill="#000" stroke="#000" stroke-width="0.12">RH_Default_PCC_2</text><text x="82.93 88.88 95.96 98.87 103.23 112.29 117.8" y="391.9" font-size="10.35" fill="#000" stroke="#000" stroke-width="0.12">TR (ms)</text><text transform="translate(13.2,300.95) rotate(-90)" x="-26.01 -20.47 -13.77 -10.46 -4.93 1.13 3.75 6.91 13.15 19.39" y="0" font-size="10.35" fill="#000" stroke="#000" stroke-width="0.12">Parcel 198</text></g>
<g><line x1="208.5" y1="225.2" x2="208.5" y2="376.7" stroke="#dcdcdc" stroke-width="0.9"/><line x1="201.65" y1="376.7" x2="353.85" y2="376.7" stroke="#dcdcdc" stroke-width="0.9"/><line x1="236.6" y1="225.2" x2="236.6" y2="376.7" stroke="#dcdcdc" stroke-width="0.9"/><line x1="201.65" y1="346.4" x2="353.85" y2="346.4" stroke="#dcdcdc" stroke-width="0.9"/><line x1="264.7" y1="225.2" x2="264.7" y2="376.7" stroke="#dcdcdc" stroke-width="0.9"/><line x1="201.65" y1="316.1" x2="353.85" y2="316.1" stroke="#dcdcdc" stroke-width="0.9"/><line x1="292.8" y1="225.2" x2="292.8" y2="376.7" stroke="#dcdcdc" stroke-width="0.9"/><line x1="201.65" y1="285.8" x2="353.85" y2="285.8" stroke="#dcdcdc" stroke-width="0.9"/><line x1="320.9" y1="225.2" x2="320.9" y2="376.7" stroke="#dcdcdc" stroke-width="0.9"/><line x1="201.65" y1="255.5" x2="353.85" y2="255.5" stroke="#dcdcdc" stroke-width="0.9"/><line x1="349" y1="225.2" x2="349" y2="376.7" stroke="#dcdcdc" stroke-width="0.9"/><line x1="201.65" y1="225.2" x2="353.85" y2="225.2" stroke="#dcdcdc" stroke-width="0.9"/><polyline points="208.64,277.56 209.46,292.62 210.55,306.3 210.55,306.34 211.51,313.15 211.51,313.19 212.6,317.3 213.56,314.55 214.93,313.15 215.61,307.04 216.99,304.93 216.99,303.62 219.04,298.09 220.4,291.25 222.04,287.83 222.87,289.19 223.83,296.72 224.52,306.3 225.19,309.09 225.88,322.77 226.98,333.72 227.93,341.93 228.62,343.58 229.72,340.57 230.67,333.72 232.03,321.4 233.41,313.15 233.41,306.34 234.77,292.62 236.15,272.09 237.11,265.24 237.92,264.56 238.88,267.98 239.56,278.92 240.25,292.62 240.93,306.3 241.62,313.15 242.02,324.14 242.57,326.19 243.4,320.04 244.36,313.15 244.36,309.09 245.72,293.98 247.1,282.01 248.05,279.29 249.15,280.35 250.51,285.77 251.89,295.36 251.89,303.62 252.98,303.57 253.25,308.4 253.94,307.68 254.63,306.34 254.89,304.93 255.99,303.62 257.35,300.15 257.35,300.87 258.73,302.19 261.47,303.57 263.52,305.62 265.57,310.4 265.57,313.19 266.93,315.93 268.31,317.3 269.67,315.93 271.04,313.19 272.41,309.09 273.78,302.24 274.46,292.62 275.83,272.09 277.2,266.6 277.35,265.92 278.3,266.33 278.44,266.6 279.4,274.82 280.37,292.62 281.46,306.3 282.14,318.66 283.51,329.61 284.88,337.83 286.25,341.25 287.62,339.19 288.98,332.36 290.36,322.77 291.72,313.19 292.41,307.68 293.77,303.57 295.82,299.47 297.89,293.98 299.94,289.88 301.99,284.41 303.35,280.3 304.73,277.83 306.09,285.77 307.45,298.09 307.45,303.62 308.55,306.3 308.55,314.55 309.24,320.72 310.19,317.3 311.29,310.45 312.25,300.83 313.21,296.72 314.3,299.47 315.67,303.57 316.77,306.3 317.72,303.57 319.09,295.36 320.06,291.25 320.87,290.56 321.83,298.09 323.2,310.4 324.57,311.83 325.52,320.04 326.62,315.93 327.45,310.45 328.26,311.83 329.36,318.66 330.45,326.87 331.41,334.4 332.36,326.87 333.19,315.93 333.74,309.09 334.84,281.66 335.93,275.51 336.89,276.19 337.84,283.03 339.21,289.88 340.3,289.88 341.68,277.56 342.78,272.09 343.73,271.41 344.69,274.82 345.78,284.41 346.47,299.47" fill="none" stroke="#9370db" stroke-width="1.35" stroke-linejoin="round" stroke-linecap="round"/><polyline points="208.7,285.38 209.51,290.84 210.48,299.06 211.84,312.8 212.8,318.27 213.9,315.52 214.85,310.06 215.95,301.8 217.04,295.63 218,292.91 218.95,291.94 219.78,291.53 220.47,293.59 221.15,299.06 221.83,305.9 223.07,314.16 224.17,321.01 225.26,326.48 226.22,329.9 227.17,331.27 228.27,331.95 229.36,331.67 230.32,329.22 231.28,323.74 232.1,315.52 234.01,301.8 235.11,292.21 236.21,284 237.16,279.89 237.85,278.53 238.52,280.59 239.49,286.74 240.31,293.59 241.26,301.8 241.26,307.31 241.95,310.06 242.64,307.31 244.69,292.21 245.65,284 246.46,279.21 247.43,277.16 248.53,276.89 249.48,278.53 250.44,284 251.25,290.84 252.22,297.69 252.22,302.53 253.18,303.16 253.18,305.27 253.99,305.9 254.27,306.63 254.95,307.27 255.37,307.31 255.92,307.95 256.33,307.99 256.73,305.9 257.28,306.63 258.38,304.59 259.47,302.53 259.74,296.31 260.84,292.21 261.79,288.8 262.76,288.1 263.58,290.84 264.53,297.69 265.49,304.53 266.32,310.06 267.27,315.52 268.23,319.63 269.32,322.37 270.42,323.74 271.37,324.01 272.33,323.05 273.43,318.27 274.52,310.06 275.9,299.06 276.85,289.48 276.99,285.38 277.81,284 278.09,283.32 278.64,282.63 279.06,282.63 279.59,284 280.01,286.74 280.83,296.31 281.78,307.27 283.16,321.01 284.12,326.48 285.21,329.22 286.31,330.86 287.26,331.27 288.22,330.86 289.32,328.54 290.41,325.11 291.77,321.01 293.15,316.9 294.51,314.16 295.89,311.42 297.25,304.53 298.21,296.31 299.16,286.74 300.26,278.53 301.36,274.42 302.73,272.79 303.69,272.38 304.64,275.1 305.74,281.27 306.84,290.84 307.79,300.42 308.75,307.31 309.58,310.06 310.53,310.01 310.53,308.69 311.49,304.53 312.32,297.69 313.27,290.84 314.23,288.1 315.04,287.42 316.01,289.48 316.97,292.21 317.78,296.31 318.74,301.8 320.8,315.52 321.88,322.37 322.85,326.48 323.81,328.54 324.9,326.48 326,319.63 326.96,311.37 326.96,311.42 327.91,308.65 327.91,307.99 328.74,309.33 328.74,308.69 329.7,315.52 330.65,323.74 331.47,326.21 332.44,322.37 333.39,314.16 334.49,301.8 335.58,290.84 336.54,282.63 337.49,278.53 338.59,276.48 339.68,274.42 340.64,271.68 341.6,269.63 342.69,268.27 343.79,269.63 344.74,274.42 345.7,282.63 346.53,290.84 347.08,299.06" fill="none" stroke="#1414a0" stroke-width="1.45" stroke-linejoin="round" stroke-linecap="round"/><rect x="201.65" y="225.2" width="152.2" height="151.5" fill="none" stroke="#8c8c8c" stroke-width="1.1"/><line x1="208.5" y1="376.7" x2="208.5" y2="378.2" stroke="#8c8c8c" stroke-width="0.9"/><text x="208.5" y="382.3" font-size="4.2" text-anchor="middle" fill="#444" stroke="#444" stroke-width="0.12">0</text><line x1="200.15" y1="376.7" x2="201.65" y2="376.7" stroke="#8c8c8c" stroke-width="0.9"/><text x="199.05" y="378.35" font-size="4.2" text-anchor="end" fill="#444" stroke="#444" stroke-width="0.12">0.0</text><line x1="236.6" y1="376.7" x2="236.6" y2="378.2" stroke="#8c8c8c" stroke-width="0.9"/><text x="236.6" y="382.3" font-size="4.2" text-anchor="middle" fill="#444" stroke="#444" stroke-width="0.12">20</text><line x1="200.15" y1="346.4" x2="201.65" y2="346.4" stroke="#8c8c8c" stroke-width="0.9"/><text x="199.05" y="348.05" font-size="4.2" text-anchor="end" fill="#444" stroke="#444" stroke-width="0.12">0.2</text><line x1="264.7" y1="376.7" x2="264.7" y2="378.2" stroke="#8c8c8c" stroke-width="0.9"/><text x="264.7" y="382.3" font-size="4.2" text-anchor="middle" fill="#444" stroke="#444" stroke-width="0.12">40</text><line x1="200.15" y1="316.1" x2="201.65" y2="316.1" stroke="#8c8c8c" stroke-width="0.9"/><text x="199.05" y="317.75" font-size="4.2" text-anchor="end" fill="#444" stroke="#444" stroke-width="0.12">0.4</text><line x1="292.8" y1="376.7" x2="292.8" y2="378.2" stroke="#8c8c8c" stroke-width="0.9"/><text x="292.8" y="382.3" font-size="4.2" text-anchor="middle" fill="#444" stroke="#444" stroke-width="0.12">60</text><line x1="200.15" y1="285.8" x2="201.65" y2="285.8" stroke="#8c8c8c" stroke-width="0.9"/><text x="199.05" y="287.45" font-size="4.2" text-anchor="end" fill="#444" stroke="#444" stroke-width="0.12">0.6</text><line x1="320.9" y1="376.7" x2="320.9" y2="378.2" stroke="#8c8c8c" stroke-width="0.9"/><text x="320.9" y="382.3" font-size="4.2" text-anchor="middle" fill="#444" stroke="#444" stroke-width="0.12">80</text><line x1="200.15" y1="255.5" x2="201.65" y2="255.5" stroke="#8c8c8c" stroke-width="0.9"/><text x="199.05" y="257.15" font-size="4.2" text-anchor="end" fill="#444" stroke="#444" stroke-width="0.12">0.8</text><line x1="349" y1="376.7" x2="349" y2="378.2" stroke="#8c8c8c" stroke-width="0.9"/><text x="349" y="382.3" font-size="4.2" text-anchor="middle" fill="#444" stroke="#444" stroke-width="0.12">100</text><line x1="200.15" y1="225.2" x2="201.65" y2="225.2" stroke="#8c8c8c" stroke-width="0.9"/><text x="199.05" y="226.85" font-size="4.2" text-anchor="end" fill="#444" stroke="#444" stroke-width="0.12">1.0</text><rect x="206.15" y="229.2" width="61.3" height="25.0" rx="1.5" fill="#fff" fill-opacity="0.8" stroke="#d8d8d8" stroke-width="0.8"/><line x1="208.35" y1="235.7" x2="224.75" y2="235.7" stroke="#9370db" stroke-width="1.4"/><line x1="208.35" y1="247.4" x2="224.75" y2="247.4" stroke="#3030aa" stroke-width="1.8"/><text transform="scale(1.03,1)" x="223.86 230.37 233.3 235.33 240.21 242.3 246.71 251.75" y="238.15" font-size="8.25" fill="#111" stroke="#111" stroke-width="0.2">Original</text><text transform="scale(1.03,1)" x="223.71 229.65 234.19 238.45 243.13 247.92 252.59" y="250.1" font-size="8.25" fill="#111" stroke="#111" stroke-width="0.2">Decoded</text><text transform="scale(1.12,1)" x="198.38 204.04 206.65 209.76 214.42 221.72 226.76 229.63 235.02 237.52 242.4 244.99 249.8 254.72" y="353.75" font-size="8.2" font-weight="bold" fill="#000" stroke="#000" stroke-width="0.25">R temp = 0.846</text><text transform="scale(1.12,1)" x="198.65 205.34 210.14 215.38 218.25 223.64 226.14 231.02 233.63 238.48 243.33" y="368.7" font-size="8.2" font-weight="bold" fill="#000" stroke="#000" stroke-width="0.25">MSE = 0.005</text><text transform="scale(1.07,1)" x="190.09 197.28 203.67 210.12 216.72 220.13 224.21 227.18 233.57 239.82 246.25 249.39 252.29 259.54 267.17 274.86 278 285.63 291.32 297.03 303.38 310.02 316.38 320.63" y="212.8" font-size="10.3" font-weight="bold" fill="#000" stroke="#000" stroke-width="0.3">Conditional RNN Decoder:</text><text x="232.49 239.4 246.39 251.72 259.35 265.61 268.39 274.82 281.02 283.97 286.93 291.88 297.73 304.54 311.33 316.72" y="222.65" font-size="10.35" fill="#000" stroke="#000" stroke-width="0.12">RH_Default_PCC_2</text><text x="259.18 265.13 272.21 275.12 279.48 288.54 294.05" y="391.9" font-size="10.35" fill="#000" stroke="#000" stroke-width="0.12">TR (ms)</text><text transform="translate(189.45,300.95) rotate(-90)" x="-26.01 -20.47 -13.77 -10.46 -4.93 1.13 3.75 6.91 13.15 19.39" y="0" font-size="10.35" fill="#000" stroke="#000" stroke-width="0.12">Parcel 198</text></g>
<g><line x1="387.85" y1="225.2" x2="387.85" y2="376.7" stroke="#dcdcdc" stroke-width="0.9"/><line x1="381" y1="376.7" x2="533.2" y2="376.7" stroke="#dcdcdc" stroke-width="0.9"/><line x1="415.95" y1="225.2" x2="415.95" y2="376.7" stroke="#dcdcdc" stroke-width="0.9"/><line x1="381" y1="346.4" x2="533.2" y2="346.4" stroke="#dcdcdc" stroke-width="0.9"/><line x1="444.05" y1="225.2" x2="444.05" y2="376.7" stroke="#dcdcdc" stroke-width="0.9"/><line x1="381" y1="316.1" x2="533.2" y2="316.1" stroke="#dcdcdc" stroke-width="0.9"/><line x1="472.15" y1="225.2" x2="472.15" y2="376.7" stroke="#dcdcdc" stroke-width="0.9"/><line x1="381" y1="285.8" x2="533.2" y2="285.8" stroke="#dcdcdc" stroke-width="0.9"/><line x1="500.25" y1="225.2" x2="500.25" y2="376.7" stroke="#dcdcdc" stroke-width="0.9"/><line x1="381" y1="255.5" x2="533.2" y2="255.5" stroke="#dcdcdc" stroke-width="0.9"/><line x1="528.35" y1="225.2" x2="528.35" y2="376.7" stroke="#dcdcdc" stroke-width="0.9"/><line x1="381" y1="225.2" x2="533.2" y2="225.2" stroke="#dcdcdc" stroke-width="0.9"/><polyline points="387.99,277.56 388.81,292.62 389.9,306.3 389.9,306.34 390.86,313.15 390.86,313.19 391.95,317.3 392.91,314.55 394.28,313.15 394.96,307.04 396.34,304.93 396.34,303.62 398.39,298.09 399.75,291.25 401.39,287.83 402.22,289.19 403.18,296.72 403.87,306.3 404.54,309.09 405.23,322.77 406.33,333.72 407.28,341.93 407.97,343.58 409.07,340.57 410.02,333.72 411.38,321.4 412.76,313.15 412.76,306.34 414.12,292.62 415.5,272.09 416.46,265.24 417.27,264.56 418.23,267.98 418.91,278.92 419.6,292.62 420.28,306.3 420.97,313.15 421.37,324.14 421.92,326.19 422.75,320.04 423.71,313.15 423.71,309.09 425.07,293.98 426.45,282.01 427.4,279.29 428.5,280.35 429.86,285.77 431.24,295.36 431.24,303.62 432.33,303.57 432.6,308.4 433.29,307.68 433.98,306.34 434.24,304.93 435.34,303.62 436.7,300.15 436.7,300.87 438.08,302.19 440.82,303.57 442.87,305.62 444.92,310.4 444.92,313.19 446.28,315.93 447.66,317.3 449.02,315.93 450.39,313.19 451.76,309.09 453.13,302.24 453.81,292.62 455.18,272.09 456.55,266.6 456.7,265.92 457.65,266.33 457.79,266.6 458.75,274.82 459.72,292.62 460.81,306.3 461.49,318.66 462.86,329.61 464.23,337.83 465.6,341.25 466.97,339.19 468.33,332.36 469.71,322.77 471.07,313.19 471.76,307.68 473.12,303.57 475.17,299.47 477.24,293.98 479.29,289.88 481.34,284.41 482.7,280.3 484.08,277.83 485.44,285.77 486.8,298.09 486.8,303.62 487.9,306.3 487.9,314.55 488.59,320.72 489.54,317.3 490.64,310.45 491.6,300.83 492.56,296.72 493.65,299.47 495.02,303.57 496.12,306.3 497.07,303.57 498.44,295.36 499.41,291.25 500.22,290.56 501.18,298.09 502.55,310.4 503.92,311.83 504.87,320.04 505.97,315.93 506.8,310.45 507.61,311.83 508.71,318.66 509.8,326.87 510.76,334.4 511.71,326.87 512.54,315.93 513.09,309.09 514.19,281.66 515.28,275.51 516.24,276.19 517.19,283.03 518.56,289.88 519.65,289.88 521.03,277.56 522.13,272.09 523.08,271.41 524.04,274.82 525.13,284.41 525.82,299.47" fill="none" stroke="#9370db" stroke-width="1.35" stroke-linejoin="round" stroke-linecap="round"/><polyline points="387.84,297.69 388.79,299.06 389.75,300.15 390.84,299.74 391.94,298.37 392.89,296.31 393.85,294.27 394.95,292.21 396.04,290.16 397,288.8 398.37,287.83 399.74,287.01 400.69,287.42 401.52,290.84 402.21,297.69 403.16,311.42 403.84,316.9 404.53,321.69 405.62,325.8 406.58,327.84 407.53,327.84 408.36,327.16 409.32,328.54 410.01,331.95 410.68,335.37 411.37,337.43 412.06,334.69 412.75,327.84 413.42,318.27 414.11,301.8 415.21,292.21 416.16,284 417.12,278.53 417.95,279.89 418.9,284 419.86,289.48 420.95,293.59 421.77,292.91 422.6,290.16 423.69,286.74 424.79,284 425.74,281.95 426.7,280.59 427.53,279.89 428.48,281.27 429.44,285.38 430.25,290.84 431.22,296.31 432.18,300.42 432.99,301.8 433.95,301.12 434.92,299.06 436.01,294.95 437.1,290.84 438.06,288.1 438.74,287.42 439.43,289.48 440.12,293.59 440.8,299.06 441.48,303.16 442.17,305.22 442.86,305.9 443.53,304.53 444.5,303.84 445.31,304.53 446.27,305.9 447.23,307.95 447.65,310.06 448.6,314.16 449.7,318.27 450.65,323.05 451.34,324.01 452.16,321.69 453.11,315.52 454.07,307.31 455.16,294.95 456.26,289.48 457.09,286.06 457.21,286.06 458.18,285.38 459,286.74 459.01,299.06 460.11,307.27 461.21,312.8 462.16,321.01 463.12,327.16 464.21,330.86 465.31,331.67 466.26,330.58 467.22,327.84 468.31,322.37 469.41,316.9 469.69,312.05 470.37,312.8 470.79,310.69 471.34,311.42 471.74,311.37 472.15,312.1 473.11,314.84 474.06,316.21 474.89,315.52 475.85,308.69 476.25,303.16 477.21,293.59 478.18,284 479.27,274.42 480.09,270.32 480.9,271.68 481.73,277.16 482.69,285.38 483.64,292.21 484.74,297.01 485.02,297.06 485.83,299.06 486.12,298.42 486.79,298.78 487.2,298.83 487.75,299.06 488.17,298.42 488.84,297.69 489.12,297.06 489.94,294.95 490.89,292.91 491.86,291.53 492.96,290.84 494.05,291.53 495.01,292.91 495.96,290.84 497.06,288.1 498.16,286.06 499.11,284.69 500.07,289.48 501.16,297.69 502.26,305.9 502.81,315.52 503.62,317.58 504.59,312.8 505.27,310.01 505.55,305.95 506.36,303.16 506.36,301.84 506.91,301.8 507.32,303.21 507.74,304.53 508.29,311.42 509.1,321.01 510.06,330.58 511.01,336.75 511.84,329.22 512.8,318.27 513.49,308.69 513.75,301.8 514.85,292.21 515.94,288.8 516.9,290.84 517.85,293.59 518.95,290.84 520.05,284 521.02,275.79 521.97,266.21 523.07,260.74 524.02,263.47 524.84,271.68 525.53,281.27 526.21,290.84 526.62,297.69" fill="none" stroke="#1414a0" stroke-width="1.45" stroke-linejoin="round" stroke-linecap="round"/><rect x="381" y="225.2" width="152.2" height="151.5" fill="none" stroke="#8c8c8c" stroke-width="1.1"/><line x1="387.85" y1="376.7" x2="387.85" y2="378.2" stroke="#8c8c8c" stroke-width="0.9"/><text x="387.85" y="382.3" font-size="4.2" text-anchor="middle" fill="#444" stroke="#444" stroke-width="0.12">0</text><line x1="379.5" y1="376.7" x2="381" y2="376.7" stroke="#8c8c8c" stroke-width="0.9"/><text x="378.4" y="378.35" font-size="4.2" text-anchor="end" fill="#444" stroke="#444" stroke-width="0.12">0.0</text><line x1="415.95" y1="376.7" x2="415.95" y2="378.2" stroke="#8c8c8c" stroke-width="0.9"/><text x="415.95" y="382.3" font-size="4.2" text-anchor="middle" fill="#444" stroke="#444" stroke-width="0.12">20</text><line x1="379.5" y1="346.4" x2="381" y2="346.4" stroke="#8c8c8c" stroke-width="0.9"/><text x="378.4" y="348.05" font-size="4.2" text-anchor="end" fill="#444" stroke="#444" stroke-width="0.12">0.2</text><line x1="444.05" y1="376.7" x2="444.05" y2="378.2" stroke="#8c8c8c" stroke-width="0.9"/><text x="444.05" y="382.3" font-size="4.2" text-anchor="middle" fill="#444" stroke="#444" stroke-width="0.12">40</text><line x1="379.5" y1="316.1" x2="381" y2="316.1" stroke="#8c8c8c" stroke-width="0.9"/><text x="378.4" y="317.75" font-size="4.2" text-anchor="end" fill="#444" stroke="#444" stroke-width="0.12">0.4</text><line x1="472.15" y1="376.7" x2="472.15" y2="378.2" stroke="#8c8c8c" stroke-width="0.9"/><text x="472.15" y="382.3" font-size="4.2" text-anchor="middle" fill="#444" stroke="#444" stroke-width="0.12">60</text><line x1="379.5" y1="285.8" x2="381" y2="285.8" stroke="#8c8c8c" stroke-width="0.9"/><text x="378.4" y="287.45" font-size="4.2" text-anchor="end" fill="#444" stroke="#444" stroke-width="0.12">0.6</text><line x1="500.25" y1="376.7" x2="500.25" y2="378.2" stroke="#8c8c8c" stroke-width="0.9"/><text x="500.25" y="382.3" font-size="4.2" text-anchor="middle" fill="#444" stroke="#444" stroke-width="0.12">80</text><line x1="379.5" y1="255.5" x2="381" y2="255.5" stroke="#8c8c8c" stroke-width="0.9"/><text x="378.4" y="257.15" font-size="4.2" text-anchor="end" fill="#444" stroke="#444" stroke-width="0.12">0.8</text><line x1="528.35" y1="376.7" x2="528.35" y2="378.2" stroke="#8c8c8c" stroke-width="0.9"/><text x="528.35" y="382.3" font-size="4.2" text-anchor="middle" fill="#444" stroke="#444" stroke-width="0.12">100</text><line x1="379.5" y1="225.2" x2="381" y2="225.2" stroke="#8c8c8c" stroke-width="0.9"/><text x="378.4" y="226.85" font-size="4.2" text-anchor="end" fill="#444" stroke="#444" stroke-width="0.12">1.0</text><rect x="385.5" y="229.2" width="61.3" height="25.0" rx="1.5" fill="#fff" fill-opacity="0.8" stroke="#d8d8d8" stroke-width="0.8"/><line x1="387.7" y1="235.7" x2="404.1" y2="235.7" stroke="#9370db" stroke-width="1.4"/><line x1="387.7" y1="247.4" x2="404.1" y2="247.4" stroke="#3030aa" stroke-width="1.8"/><text transform="scale(1.03,1)" x="397.99 404.5 407.43 409.46 414.34 416.43 420.84 425.88" y="238.15" font-size="8.25" fill="#111" stroke="#111" stroke-width="0.2">Original</text><text transform="scale(1.03,1)" x="397.84 403.78 408.31 412.58 417.25 422.04 426.72" y="250.1" font-size="8.25" fill="#111" stroke="#111" stroke-width="0.2">Decoded</text><text transform="scale(1.12,1)" x="358.52 364.17 366.79 369.89 374.56 381.85 386.89 389.76 395.15 397.65 402.54 405.13 409.98 414.79" y="353.75" font-size="8.2" font-weight="bold" fill="#000" stroke="#000" stroke-width="0.25">R temp = 0.827</text><text transform="scale(1.12,1)" x="358.78 365.48 370.28 375.51 378.38 383.77 386.27 391.16 393.76 398.61 403.46" y="368.7" font-size="8.2" font-weight="bold" fill="#000" stroke="#000" stroke-width="0.25">MSE = 0.005</text><text transform="scale(1.07,1)" x="342.93 350.12 356.5 362.96 369.56 372.97 377.04 380.02 386.41 392.66 399.09 402.23 404.74 412.05 419.68 428.02 434.74 441.98 449.61 457.3 460.44 468.07 473.76 479.48 485.82 492.46 498.82 503.08" y="212.8" font-size="10.3" font-weight="bold" fill="#000" stroke="#000" stroke-width="0.3">Conditional CNN+RNN Decoder:</text><text x="411.24 418.15 425.14 430.47 438.1 444.36 447.14 453.57 459.77 462.72 465.68 470.63 476.48 483.29 490.08 495.47" y="222.65" font-size="10.35" fill="#000" stroke="#000" stroke-width="0.12">RH_Default_PCC_2</text><text x="438.53 444.48 451.56 454.47 458.83 467.89 473.4" y="391.9" font-size="10.35" fill="#000" stroke="#000" stroke-width="0.12">TR (ms)</text><text transform="translate(368.8,300.95) rotate(-90)" x="-26.01 -20.47 -13.77 -10.46 -4.93 1.13 3.75 6.91 13.15 19.39" y="0" font-size="10.35" fill="#000" stroke="#000" stroke-width="0.12">Parcel 198</text></g>
</svg>
</body></html>
